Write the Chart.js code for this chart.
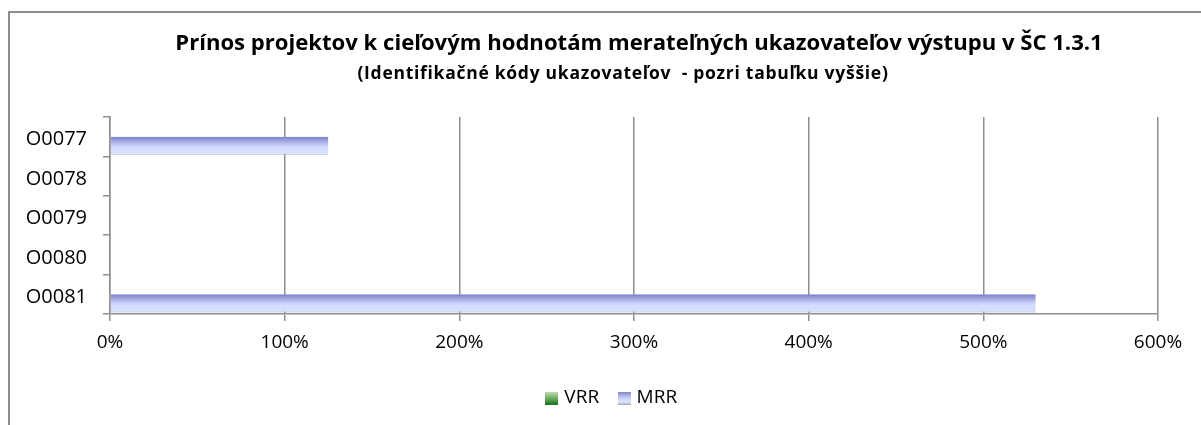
<!DOCTYPE html>
<html><head><meta charset="utf-8">
<script src="https://cdn.jsdelivr.net/npm/chart.js@4.4.1/dist/chart.umd.min.js"></script>
<style>
html,body{margin:0;padding:0;background:#fff;width:1201px;height:425px;overflow:hidden}
#frame{position:absolute;left:8px;top:11px;width:1400px;height:600px;border:2px solid #8e8e8e;box-sizing:border-box}
#wrap{position:absolute;left:0;top:0;width:1201px;height:425px}
</style></head><body>
<div id="frame"></div>
<div id="wrap"><canvas id="c" width="1201" height="425"></canvas></div>
<script>
// ---- data ----
const categories = ['O0077', 'O0078', 'O0079', 'O0080', 'O0081'];
const seriesNames = ['VRR', 'MRR'];
const vrrValues = [null, null, null, null, null];
const mrrValues = [125, null, null, null, 530];
const xTickValues = [0, 100, 200, 300, 400, 500, 600];
const titleText = 'Prínos projektov k cieľovým hodnotám merateľných ukazovateľov výstupu v ŠC 1.3.1';
const subtitleText = '(Identifikačné kódy ukazovateľov  - pozri tabuľku vyššie)';

// ---- styling ----
const FAMILY = "'Open Sans', sans-serif";
const GRID = '#8f8f8f';
const CAT_PCT = 0.92;

function measure(text, weight, size) {
  const m = document.createElement('canvas').getContext('2d');
  m.font = weight + ' ' + size + 'px ' + FAMILY;
  return m.measureText(text).width;
}
const titleSize = (function () { const w = measure(titleText, 'bold', 20); return w > 0 ? Math.max(18, Math.min(24, 20 * 928 / w)) : 22; })();
const subSize = 17.5;
const subSpacing = (function () { const w = measure(subtitleText, 'bold', subSize); return w > 0 ? Math.max(0, Math.min(0.8, (531 - w) / subtitleText.length)) : 0.5; })();
const h1 = titleSize * 1.2, h2 = subSize * 1.2;
const TITLE_CY = 44, SUB_CY = 74, PLOT_TOP = 117;

function swatch(stops, edge) {
  const cv = document.createElement('canvas');
  cv.width = 13; cv.height = 13;
  const g = cv.getContext('2d');
  const gr = g.createLinearGradient(0, 0, 0, 13);
  stops.forEach(s => gr.addColorStop(s[0], s[1]));
  g.fillStyle = gr; g.fillRect(0, 0, 13, 13);
  if (edge) { g.fillStyle = edge; g.fillRect(0, 12, 13, 1); }
  return cv;
}
const mrrStops = [[0, '#7b7fc4'], [0.45, '#c2c9f5'], [0.62, '#d5dcfd'], [1, '#d7defe']];
const vrrStops = [[0, '#c4e0b2'], [0.5, '#74b064'], [1, '#1c741c']];
const swatches = [swatch(vrrStops), swatch(mrrStops, '#a8b3bd')];

function barGradient(c, stops) {
  const chart = c.chart, ys = chart.scales && chart.scales.y;
  if (!ys || c.type !== 'data') return stops[1][1];
  const center = ys.getPixelForValue(c.dataIndex);
  const band = Math.abs(ys.getPixelForValue(1) - ys.getPixelForValue(0));
  const half = band * CAT_PCT / 2;
  const top = c.datasetIndex === 1 ? center : center - half;
  const g = chart.ctx.createLinearGradient(0, top, 0, top + half);
  stops.forEach(s => g.addColorStop(s[0], s[1]));
  return g;
}

const centerPlugin = {
  id: 'centerShift',
  afterLayout(chart) {
    const sub = chart.boxes.find(b => b !== chart.titleBlock && b.options && b.options.text === subtitleText);
    const list = [[chart.titleBlock, 639], [sub, 623], [chart.legend, 613]];
    list.forEach(([box, cx]) => {
      if (!box) return;
      const d = cx - (box.left + box.right) / 2;
      box.left += d; box.right += d;
    });
    if (sub && !sub._spaced) {
      const orig = sub.draw.bind(sub);
      sub.draw = function () {
        const ctx = this.ctx;
        const prev = ctx.letterSpacing;
        ctx.letterSpacing = subSpacing.toFixed(2) + 'px';
        orig();
        ctx.letterSpacing = prev || '0px';
      };
      sub._spaced = true;
    }
  }
};

new Chart(document.getElementById('c'), {
  type: 'bar',
  data: {
    labels: categories,
    datasets: [
      { label: seriesNames[0], data: vrrValues,
        backgroundColor: c => barGradient(c, vrrStops) },
      { label: seriesNames[1], data: mrrValues,
        backgroundColor: c => barGradient(c, mrrStops),
        borderColor: '#a8b3bd', borderWidth: { top: 0, left: 0, right: 0, bottom: 1 }, borderSkipped: false }
    ]
  },
  plugins: [centerPlugin],
  options: {
    indexAxis: 'y',
    responsive: false,
    animation: false,
    devicePixelRatio: 1,
    categoryPercentage: CAT_PCT,
    barPercentage: 1,
    layout: { padding: { left: 0, right: 43, top: 0, bottom: 7.5 } },
    scales: {
      x: {
        min: 0, max: 600,
        afterBuildTicks: s => { s.ticks = xTickValues.map(v => ({ value: v })); },
        afterFit: s => { s.height = 52.5; },
        ticks: { callback: v => v + '%', color: '#000', padding: 10,
          font: { family: FAMILY, size: 19 } },
        grid: { color: GRID, lineWidth: 1.5, tickLength: 7, drawTicks: true },
        border: { display: true, color: GRID, width: 1.5 }
      },
      y: {
        afterFit: s => { s.width = 110; },
        ticks: { color: '#000', padding: 16, labelOffset: 3,
          font: { family: FAMILY, size: 20 } },
        grid: { offset: true, drawOnChartArea: false, drawTicks: true, tickLength: 7, color: GRID, lineWidth: 1.5 },
        border: { display: true, color: GRID, width: 1.5 }
      }
    },
    plugins: {
      title: {
        display: true, text: titleText, color: '#000',
        font: { family: FAMILY, size: titleSize, weight: 'bold', lineHeight: 1.2 },
        padding: { top: TITLE_CY - h1 / 2, bottom: 0 }
      },
      subtitle: {
        display: true, text: subtitleText, color: '#000',
        font: { family: FAMILY, size: subSize, weight: 'bold', lineHeight: 1.2 },
        padding: { top: SUB_CY - h2 / 2 - (TITLE_CY + h1 / 2), bottom: PLOT_TOP - (SUB_CY + h2 / 2) }
      },
      legend: {
        position: 'bottom',
        labels: {
          usePointStyle: true, boxWidth: 6, boxHeight: 13, padding: 22, color: '#000',
          font: { family: FAMILY, size: 19 },
          generateLabels: chart => chart.data.datasets.map((ds, i) => ({
            text: ds.label, pointStyle: swatches[i], fillStyle: 'transparent',
            strokeStyle: 'transparent', lineWidth: 0, hidden: false, datasetIndex: i, fontColor: '#000'
          }))
        }
      },
      tooltip: { enabled: false }
    }
  }
});
</script></body></html>
